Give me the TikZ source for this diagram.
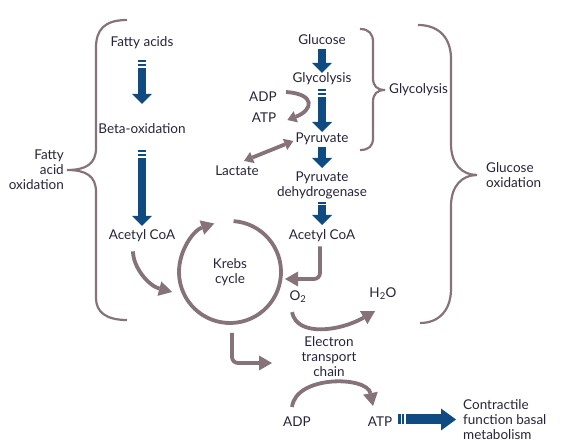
\documentclass[tikz,border=0pt]{standalone}
\usepackage{fontspec}
\setmainfont{Lato}
\usepackage{tikz}
\usetikzlibrary{arrows.meta, positioning}
\definecolor{fuelBlue}{HTML}{0F4A80}
\definecolor{fuelGrey}{HTML}{857379}
\definecolor{fuelInk}{HTML}{26243A}

\begin{document}
\begin{tikzpicture}[x=1pt, y=1pt,
    lbl/.style={inner sep=0pt, align=center, text=fuelInk, font=\fontsize{13.5}{15}\selectfont},
    fat/.style={fuelBlue, line width=8pt, -{Triangle[length=10pt, width=20pt, line width=0pt]}},
    twobars/.style={dash pattern=on 2.3pt off 1.3pt on 2.5pt off 1.5pt on 400pt off 1pt},
    onebar/.style={dash pattern=on 2pt off 1.5pt on 400pt off 1pt},
    arr/.style={fuelGrey, line width=3.8pt, -{Triangle[length=13pt, width=15pt, line width=0pt]}},
    smallarr/.style={arr, -{Triangle[length=9pt, width=12pt, line width=0pt]}},
    brace/.style={fuelGrey, line width=2.2pt}]
    \useasboundingbox (0,0) rectangle (567,444);

    % fatty acid side
    \node[lbl] (fa) at (142,401) {Fatty acids};
    \node[lbl] (beta) at (142,315) {Beta-oxidation};
    \node[lbl] (acl) at (142,208) {Acetyl CoA};
    % glucose side
    \node[lbl] (glc) at (322,404) {Glucose};
    \node[lbl] (gly) at (322,365) {Glycolysis};
    \node[lbl] (pyr) at (322,305) {Pyruvate};
    \node[lbl] (pdh) at (322,259) {Pyruvate\\dehydrogenase};
    \node[lbl] (acr) at (322,208) {Acetyl CoA};
    \node[lbl] (adpa) at (263,347) {ADP};
    \node[lbl] (atpa) at (264,326) {ATP};
    \node[lbl] (lac) at (237,273) {Lactate};
    % mitochondrion
    \node[lbl] (krebs) at (230,172) {Krebs\\cycle};
    \node[lbl] (otwo) at (298,147) {O\textsubscript{2}};
    \node[lbl] (water) at (383,150) {H\textsubscript{2}O};
    \node[lbl] (etc) at (329,87) {Electron\\transport\\chain};
    \node[lbl] (adpb) at (297,22) {ADP};
    \node[lbl] (atpb) at (380,22) {ATP};
    \node[lbl, align=left, anchor=west] (work) at (463,24.5) {Contractile\\function basal\\metabolism};
    % brace labels
    \node[lbl, align=right, anchor=east] (fao) at (64,274) {Fatty\\acid\\oxidation};
    \node[lbl, align=left, anchor=west] (glyb) at (389,354) {Glycolysis};
    \node[lbl, align=left, anchor=west] (gox) at (486,269) {Glucose\\oxidation};

    \coordinate (kl) at (172,152);
    \coordinate (kr) at (285,165);
    \coordinate (kout) at (232,111);
    \coordinate (etcin) at (272,81);

    % blue arrows
    \draw[fat, twobars, shorten <=17pt, shorten >=25pt] (fa.center) -- (beta.center);
    \draw[fat, twobars, shorten <=21pt, shorten >=10pt] (beta.center) -- (acl.center);
    \draw[fat, shorten <=9pt, shorten >=6pt] (glc.center) -- (gly.center);
    \draw[fat, twobars, shorten <=10pt, shorten >=7pt] (gly.center) -- (pyr.center);
    \draw[fat, shorten <=8pt, shorten >=17pt] (pyr.center) -- (pdh.center);
    \draw[fat, onebar, shorten <=17pt, shorten >=11pt] (pdh.center) -- (acr.center);
    \draw[fat, twobars, line width=10pt, -{Triangle[length=15pt, width=22pt, line width=0pt]},
      shorten <=6pt, shorten >=7pt] (atpb.east |- work.west) -- (work.west);

    % grey arrows
    \draw[smallarr] ([xshift=9pt,yshift=5pt]adpa.east) .. controls +(30,-2) and +(26,10) .. ([xshift=11pt,yshift=-2pt]atpa.east);
    \draw[smallarr, {Triangle[length=9pt, width=12pt, line width=0pt]}-{Triangle[length=9pt, width=12pt, line width=0pt]}]
      ([xshift=7pt,yshift=5pt]lac.north) -- ([xshift=-2pt,yshift=-2pt]pyr.west);
    \draw[arr] (krebs.center) ++(86:51) arc[start angle=86, end angle=-252, radius=51];
    \draw[arr, shorten <=9pt] ([xshift=-9pt]acl.south) to[out=-90, in=165] (kl);
    \draw[arr, rounded corners=6pt, shorten <=4pt] ([xshift=-2pt]acr.south) |- (kr);
    \draw[arr] ([xshift=-6pt,yshift=-9pt]otwo.south) .. controls +(5,-25) and +(-35,-20) .. ([xshift=-8pt,yshift=-11pt]water.south);
    \draw[arr, rounded corners=6pt] (kout) |- (etcin);
    \draw[arr] ([xshift=-5pt,yshift=10pt]adpb.north) .. controls +(4,32) and +(-6,30) .. ([xshift=-7pt,yshift=11pt]atpb.north);

    % braces
    \draw[brace] (127,424) .. controls (104,424) and (96,414) .. (96,396) -- (96,296)
      .. controls (96,280) and (86,274) .. ([xshift=3pt]fao.east) .. controls (86,274) and (96,268) .. (96,252)
      -- (96,146) .. controls (96,132) and (106,124) .. (127,124);
    \draw[brace] (360,415) .. controls (369,415) and (373,410) .. (373,402) -- (373,366)
      .. controls (373,358) and (377,354) .. ([xshift=-4pt]glyb.west) .. controls (377,354) and (373,350) .. (373,342)
      -- (373,306) .. controls (373,298) and (369,294) .. (360,294);
    \draw[brace] (418,419) .. controls (440,419) and (451,405) .. (451,385) -- (451,300)
      .. controls (451,280) and (462,269) .. ([xshift=-9pt]gox.west) .. controls (462,269) and (451,258) .. (451,238)
      -- (451,155) .. controls (451,135) and (440,121) .. (420,121);
\end{tikzpicture}
\end{document}
